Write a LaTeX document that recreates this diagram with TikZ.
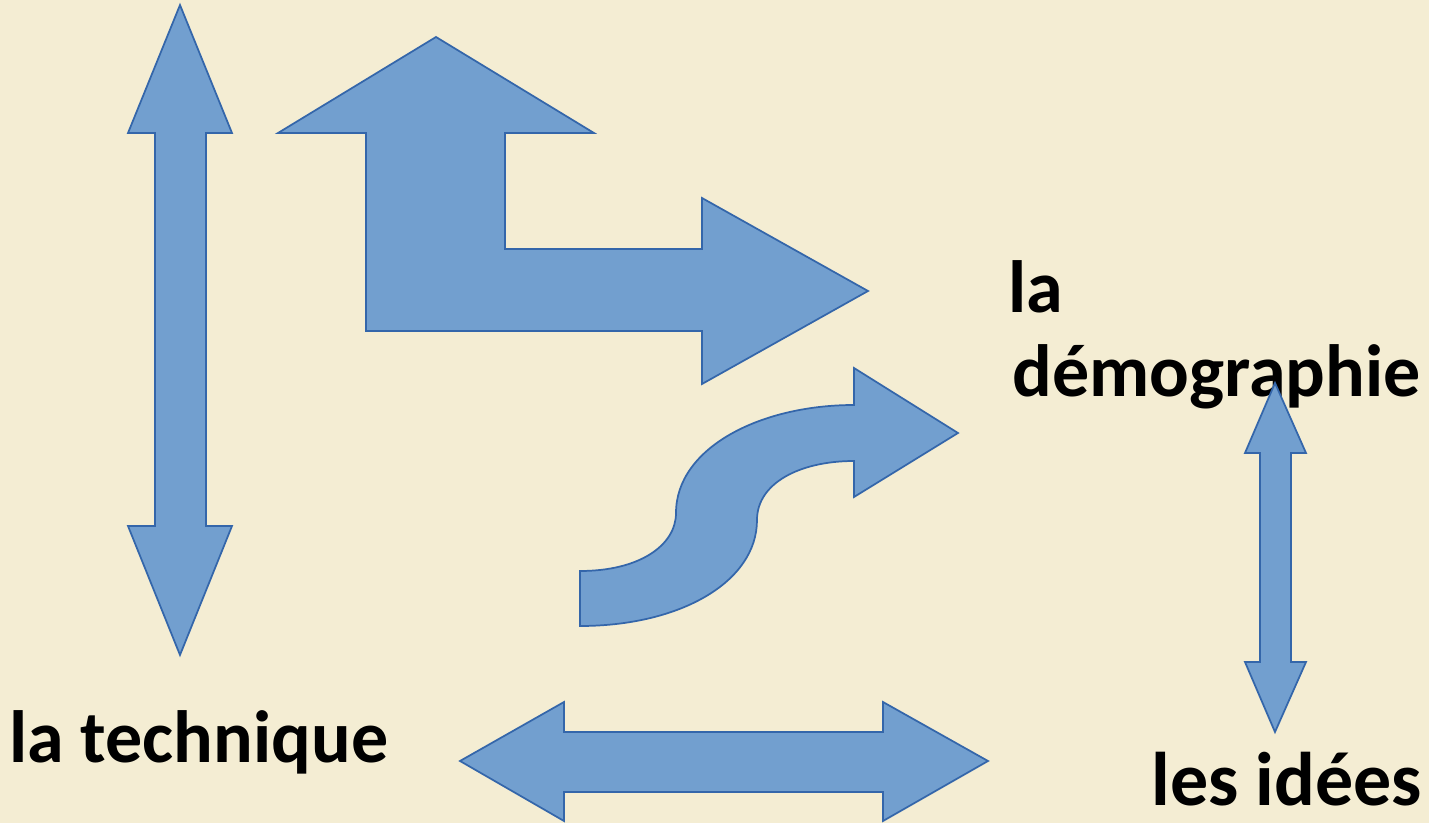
\documentclass[tikz,border=0pt]{standalone}
\usepackage{fontspec}
\setmainfont{Carlito}
\definecolor{paper}{RGB}{244,237,211}
\definecolor{arrowfill}{RGB}{114,159,207}
\definecolor{arrowline}{RGB}{52,102,170}
\tikzset{every picture/.style={line width=0.75pt}}
\tikzset{blockarrow/.style={draw=arrowline, fill=arrowfill, line width=1.3pt, line join=miter},
  bigword/.style={anchor=base west, inner sep=0pt, font=\fontsize{55.5}{60}\selectfont\bfseries}}

\begin{document}
\begin{tikzpicture}[x=0.75pt,y=0.75pt,yscale=-1,xscale=1]
\fill[paper] (0,0) rectangle (1429,823);
\useasboundingbox (0,0) rectangle (1429,823);

%Shape: Up-Down Arrow (left)
\draw[blockarrow] (180,5) -- (232,133) -- (206,133) -- (206,526) -- (232,526) -- (180,655) -- (128,526) -- (155,526) -- (155,133) -- (128,133) -- cycle ;

%Shape: Bent Up Arrow
\draw[blockarrow] (436,37) -- (594,133) -- (505,133) -- (505,249) -- (702,249) -- (702,198) -- (868,291) -- (702,384) -- (702,331) -- (366,331) -- (366,133) -- (278,133) -- cycle ;

%Shape: Curved Arrow
\draw[blockarrow] (580,571) .. controls (640,571) and (676,545) .. (676,513) .. controls (676,448) and (760,405) .. (854,405) -- (854,368) -- (958,433) -- (854,497) -- (854,461) .. controls (800,461) and (757,483) .. (757,520) .. controls (757,582) and (680,626) .. (580,626) -- cycle ;

%Shape: Left-Right Arrow (bottom)
\draw[blockarrow] (460,761) -- (564,702) -- (564,732) -- (883,732) -- (883,702) -- (988,761) -- (883,821) -- (883,792) -- (564,792) -- (564,821) -- cycle ;

% Text Node
\draw (1008,313) node[bigword] (la) {la};
% Text Node
\draw (1012,397) node[bigword] (demographie) {démographie};
% Text Node
\draw (9,762) node[bigword] (technique) {la technique};
% Text Node
\draw (1151,805) node[bigword, font=\fontsize{57}{60}\selectfont\bfseries] (idees) {les idées};

%Shape: Up-Down Arrow (right), drawn over the text
\draw[blockarrow] (1275,383) -- (1306,453) -- (1291,453) -- (1291,662) -- (1306,662) -- (1275,732) -- (1245,662) -- (1260,662) -- (1260,453) -- (1245,453) -- cycle ;

\end{tikzpicture}
\end{document}
